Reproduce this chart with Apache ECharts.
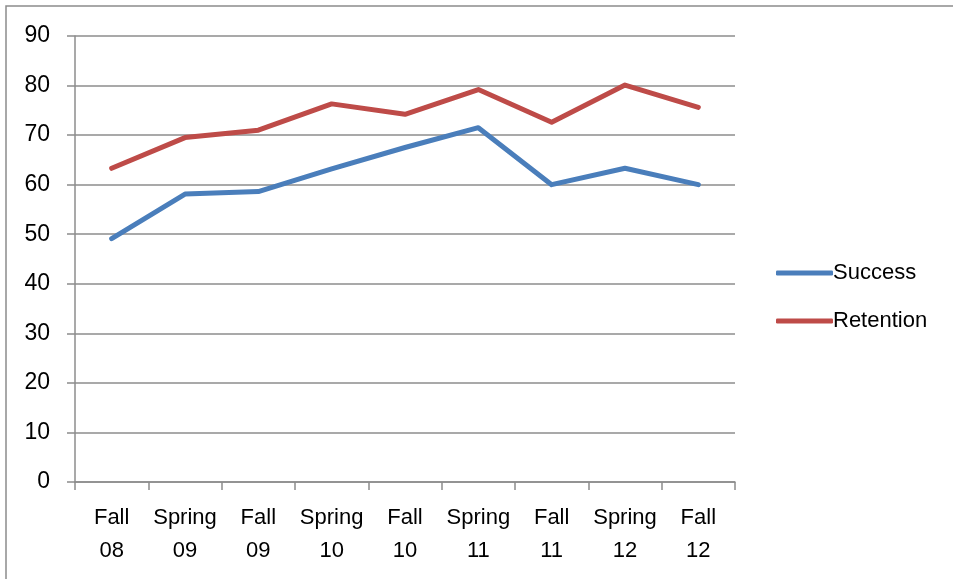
<!DOCTYPE html>
<html>
<head>
<meta charset="UTF-8">
<title>Success and Retention</title>
<script src="https://cdn.jsdelivr.net/npm/echarts@6/dist/echarts.min.js"></script>
<style>
  html, body { margin: 0; padding: 0; background: #fff; }
  #main { width: 953px; height: 579px; }
</style>
</head>
<body>
<div id="main"></div>
<script>
// data
var terms = ['Fall\n08', 'Spring\n09', 'Fall\n09', 'Spring\n10', 'Fall\n10', 'Spring\n11', 'Fall\n11', 'Spring\n12', 'Fall\n12'];
var success = [49.1, 58.1, 58.6, 63.2, 67.5, 71.5, 60.0, 63.3, 60.0];
var retention = [63.3, 69.5, 71.0, 76.3, 74.2, 79.2, 72.6, 80.1, 75.6];
var seriesNames = ['Success', 'Retention'];

var font = 'Liberation Sans';
var myChart = echarts.init(document.getElementById('main'));

var option = {
  animation: false,
  textStyle: { fontFamily: font, color: '#000' },
  // outer frame of the chart (only left and top edges are visible)
  graphic: [{
    type: 'rect',
    shape: { x: 6, y: 6, width: 1000, height: 1000 },
    style: { fill: 'none', stroke: '#8c8c8c', lineWidth: 1.5 },
    silent: true
  }],
  grid: { left: 75, right: 218, top: 36, bottom: 97 },
  legend: {
    orient: 'vertical',
    left: 771,
    top: 257,
    itemWidth: 57,
    itemHeight: 5,
    itemGap: 26,
    icon: 'roundRect',
    textStyle: { fontFamily: font, fontSize: 22, color: '#000', padding: [0, 0, 0, -5] },
    data: seriesNames
  },
  xAxis: {
    type: 'category',
    data: terms,
    boundaryGap: true,
    axisLine: { lineStyle: { color: '#8c8c8c', width: 1.5 } },
    axisTick: { show: true, length: 8, alignWithLabel: false, lineStyle: { color: '#8c8c8c', width: 1.5 } },
    axisLabel: { fontFamily: font, fontSize: 22, color: '#000', lineHeight: 33, margin: 19, interval: 0 }
  },
  yAxis: {
    type: 'value',
    min: 0,
    max: 90,
    interval: 10,
    axisLine: { show: true, lineStyle: { color: '#8c8c8c', width: 1.5 } },
    axisTick: { show: true, length: 8, lineStyle: { color: '#8c8c8c', width: 1.5 } },
    axisLabel: { fontFamily: font, fontSize: 23, color: '#000', margin: 25 },
    splitLine: { lineStyle: { color: '#8c8c8c', width: 1.5 } }
  },
  series: [
    {
      name: seriesNames[0],
      type: 'line',
      data: success,
      symbol: 'none',
      color: '#4a7ebb',
      lineStyle: { width: 5, cap: 'round', join: 'round' }
    },
    {
      name: seriesNames[1],
      type: 'line',
      data: retention,
      symbol: 'none',
      color: '#be4b48',
      lineStyle: { width: 5, cap: 'round', join: 'round' }
    }
  ]
};

myChart.setOption(option);
</script>
</body>
</html>
